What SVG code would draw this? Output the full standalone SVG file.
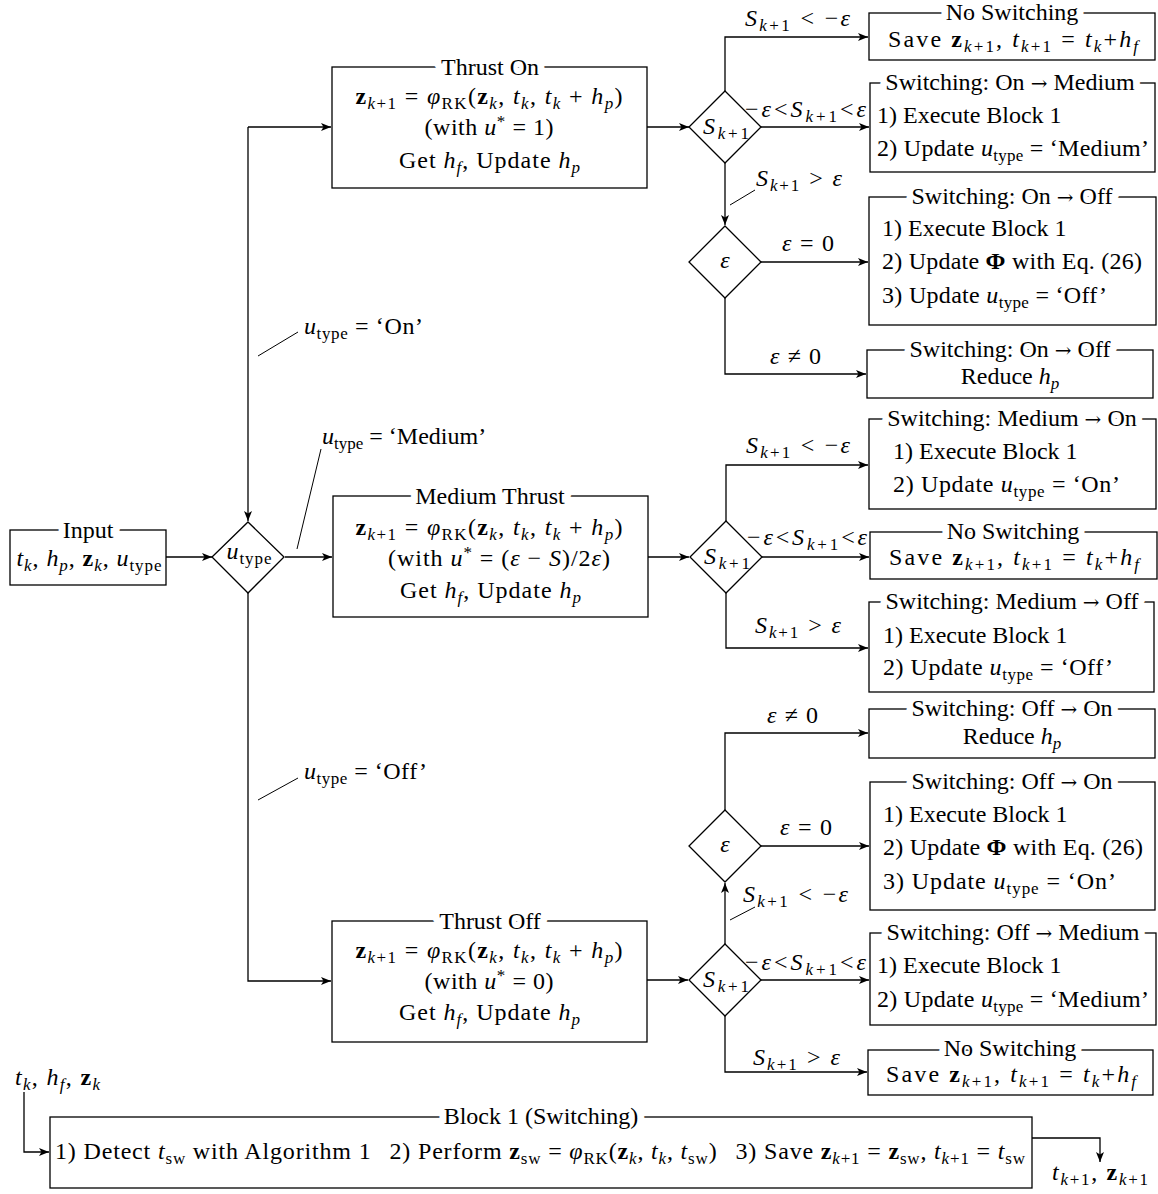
<svg xmlns="http://www.w3.org/2000/svg" width="1158" height="1194" viewBox="0 0 1158 1194">
<defs>
<style>
.t{font-family:"Liberation Serif","Times New Roman",serif;font-size:24px;fill:#000}
.i{font-style:italic}
.b{font-weight:bold}
.s{font-size:17px}
.m{text-anchor:middle}
.a{font-family:"DejaVu Serif",serif;font-size:20px}
.h{stroke:#fff;stroke-width:14px;paint-order:stroke;stroke-linejoin:round}
.box{fill:#fff;stroke:#000;stroke-width:1.3}
.dia{fill:#fff;stroke:#000;stroke-width:1.3}
.ln{fill:none;stroke:#000;stroke-width:1.3}
.pin{fill:none;stroke:#000;stroke-width:1}
</style>
<marker id="ah" viewBox="0 0 10 8" refX="10" refY="4" markerWidth="10" markerHeight="8" markerUnits="userSpaceOnUse" orient="auto"><path d="M0,0 L10,4 L0,8 L2.5,4 Z" fill="#000"/></marker>
</defs>
<rect width="1158" height="1194" fill="#fff"/>

<g id="connectors">
<path class="ln" marker-end="url(#ah)" d="M166,557 L212,557"/>
<path class="ln" marker-end="url(#ah)" d="M248,127 L248,521"/>
<path class="ln" marker-end="url(#ah)" d="M248,127 L331,127"/>
<path class="ln" marker-end="url(#ah)" d="M285,557 L332,557"/>
<path class="ln" marker-end="url(#ah)" d="M248,593 L248,981 L331,981"/>
<path class="ln" marker-end="url(#ah)" d="M368,112 L368,160 L396,160"/>
<path class="ln" marker-end="url(#ah)" d="M369,542 L369,590 L396,590"/>
<path class="ln" marker-end="url(#ah)" d="M368,966 L368,1012 L396,1012"/>
<path class="ln" marker-end="url(#ah)" d="M647,127 L689,127"/>
<path class="ln" marker-end="url(#ah)" d="M725,91 L725,37 L868,37"/>
<path class="ln" marker-end="url(#ah)" d="M761,127 L869,127"/>
<path class="ln" marker-end="url(#ah)" d="M725,163 L725,225"/>
<path class="ln" marker-end="url(#ah)" d="M761,262 L868,262"/>
<path class="ln" marker-end="url(#ah)" d="M725,298 L725,374 L866,374"/>
<path class="ln" marker-end="url(#ah)" d="M648,557 L689,557"/>
<path class="ln" marker-end="url(#ah)" d="M726,521 L726,465 L868,465"/>
<path class="ln" marker-end="url(#ah)" d="M762,557 L869,557"/>
<path class="ln" marker-end="url(#ah)" d="M726,593 L726,648 L868,648"/>
<path class="ln" marker-end="url(#ah)" d="M647,980 L688,980"/>
<path class="ln" marker-end="url(#ah)" d="M761,980 L869,980"/>
<path class="ln" marker-end="url(#ah)" d="M725,1016 L725,1072 L867,1072"/>
<path class="ln" marker-end="url(#ah)" d="M725,944 L725,883"/>
<path class="ln" marker-end="url(#ah)" d="M761,846 L869,846"/>
<path class="ln" marker-end="url(#ah)" d="M725,810 L725,733 L868,733"/>
<path class="ln" marker-end="url(#ah)" d="M24,1092 L24,1152 L49,1152"/>
<path class="ln" marker-end="url(#ah)" d="M1032,1138 L1100,1138 L1100,1162"/>
<path class="pin" d="M258,356 L298,332"/>
<path class="pin" d="M297,549 L321,449"/>
<path class="pin" d="M258,800 L298,778"/>
<path class="pin" d="M730,205 L755,190"/>
<path class="pin" d="M730,920 L755,907"/>
<text class="t" x="304" y="334" textLength="119" lengthAdjust="spacing"><tspan class="i">u</tspan><tspan class="s" dy="5">type</tspan><tspan dy="-5"> = ‘On’</tspan></text>
<text class="t" x="322" y="444"><tspan class="i">u</tspan><tspan class="s" dy="5">type</tspan><tspan dy="-5"> = ‘Medium’</tspan></text>
<text class="t" x="304" y="779" textLength="123" lengthAdjust="spacing"><tspan class="i">u</tspan><tspan class="s" dy="5">type</tspan><tspan dy="-5"> = ‘Off’</tspan></text>
<text class="t" x="745" y="26" textLength="105" lengthAdjust="spacing"><tspan class="i">S</tspan><tspan class="s" dy="5"><tspan class="i">k</tspan>+1</tspan><tspan dy="-5"> &lt; −</tspan><tspan class="i">ε</tspan></text>
<text class="t" x="745" y="117" textLength="121" lengthAdjust="spacing">−<tspan class="i">ε</tspan>&lt;<tspan class="i">S</tspan><tspan class="s" dy="5"><tspan class="i">k</tspan>+1</tspan><tspan dy="-5">&lt;</tspan><tspan class="i">ε</tspan></text>
<text class="t" x="756" y="186" textLength="86" lengthAdjust="spacing"><tspan class="i">S</tspan><tspan class="s" dy="5"><tspan class="i">k</tspan>+1</tspan><tspan dy="-5"> &gt; </tspan><tspan class="i">ε</tspan></text>
<text class="t" x="782" y="251" textLength="52" lengthAdjust="spacing"><tspan class="i">ε</tspan> = 0</text>
<text class="t" x="770" y="364" textLength="51" lengthAdjust="spacing"><tspan class="i">ε</tspan> ≠ 0</text>
<text class="t" x="746" y="453" textLength="104" lengthAdjust="spacing"><tspan class="i">S</tspan><tspan class="s" dy="5"><tspan class="i">k</tspan>+1</tspan><tspan dy="-5"> &lt; −</tspan><tspan class="i">ε</tspan></text>
<text class="t" x="747" y="545" textLength="120" lengthAdjust="spacing">−<tspan class="i">ε</tspan>&lt;<tspan class="i">S</tspan><tspan class="s" dy="5"><tspan class="i">k</tspan>+1</tspan><tspan dy="-5">&lt;</tspan><tspan class="i">ε</tspan></text>
<text class="t" x="755" y="633" textLength="86" lengthAdjust="spacing"><tspan class="i">S</tspan><tspan class="s" dy="5"><tspan class="i">k</tspan>+1</tspan><tspan dy="-5"> &gt; </tspan><tspan class="i">ε</tspan></text>
<text class="t" x="767" y="723" textLength="51" lengthAdjust="spacing"><tspan class="i">ε</tspan> ≠ 0</text>
<text class="t" x="780" y="835" textLength="52" lengthAdjust="spacing"><tspan class="i">ε</tspan> = 0</text>
<text class="t" x="743" y="902" textLength="105" lengthAdjust="spacing"><tspan class="i">S</tspan><tspan class="s" dy="5"><tspan class="i">k</tspan>+1</tspan><tspan dy="-5"> &lt; −</tspan><tspan class="i">ε</tspan></text>
<text class="t" x="745" y="970" textLength="121" lengthAdjust="spacing">−<tspan class="i">ε</tspan>&lt;<tspan class="i">S</tspan><tspan class="s" dy="5"><tspan class="i">k</tspan>+1</tspan><tspan dy="-5">&lt;</tspan><tspan class="i">ε</tspan></text>
<text class="t" x="753" y="1065" textLength="87" lengthAdjust="spacing"><tspan class="i">S</tspan><tspan class="s" dy="5"><tspan class="i">k</tspan>+1</tspan><tspan dy="-5"> &gt; </tspan><tspan class="i">ε</tspan></text>
<text class="t" x="15" y="1085" textLength="85" lengthAdjust="spacing"><tspan class="i">t</tspan><tspan class="s i" dy="5">k</tspan><tspan dy="-5">, </tspan><tspan class="i">h</tspan><tspan class="s i" dy="5">f</tspan><tspan dy="-5">, </tspan><tspan class="b">z</tspan><tspan class="s i" dy="5">k</tspan></text>
<text class="t" x="1052" y="1180" textLength="96" lengthAdjust="spacing"><tspan class="i">t</tspan><tspan class="s" dy="5"><tspan class="i">k</tspan>+1</tspan><tspan dy="-5">, </tspan><tspan class="b">z</tspan><tspan class="s" dy="5"><tspan class="i">k</tspan>+1</tspan></text>
</g>

<g id="input">
<rect class="box" x="10" y="530" width="156" height="55"/>
<text class="t m h" x="88" y="538">Input</text>
<text class="t m" x="89" y="566" textLength="145" lengthAdjust="spacing"><tspan class="i">t</tspan><tspan class="s i" dy="5">k</tspan><tspan dy="-5">, </tspan><tspan class="i">h</tspan><tspan class="s i" dy="5">p</tspan><tspan dy="-5">, </tspan><tspan class="b">z</tspan><tspan class="s i" dy="5">k</tspan><tspan dy="-5">, </tspan><tspan class="i">u</tspan><tspan class="s" dy="5">type</tspan></text>
</g>

<g id="utype-decision">
<path class="dia" d="M248,522 L284,557 L248,593 L212,557 Z"/>
<text class="t m" x="249" y="559" textLength="45" lengthAdjust="spacing"><tspan class="i">u</tspan><tspan class="s" dy="5">type</tspan></text>
</g>

<g id="thrust-on">
<rect class="box" x="332" y="67" width="315" height="121"/>
<text class="t m h" x="490" y="75">Thrust On</text>
<text class="t m" x="489" y="104" textLength="267" lengthAdjust="spacing"><tspan class="b">z</tspan><tspan class="s" dy="5"><tspan class="i">k</tspan>+1</tspan><tspan dy="-5"> = </tspan><tspan class="i">φ</tspan><tspan class="s" dy="5">RK</tspan><tspan dy="-5">(</tspan><tspan class="b">z</tspan><tspan class="s i" dy="5">k</tspan><tspan dy="-5">, </tspan><tspan class="i">t</tspan><tspan class="s i" dy="5">k</tspan><tspan dy="-5">, </tspan><tspan class="i">t</tspan><tspan class="s i" dy="5">k</tspan><tspan dy="-5"> + </tspan><tspan class="i">h</tspan><tspan class="s i" dy="5">p</tspan><tspan dy="-5">)</tspan></text>
<text class="t m" x="489" y="135" textLength="129" lengthAdjust="spacing">(with <tspan class="i">u</tspan><tspan class="s" dy="-8">*</tspan><tspan dy="8"> = 1)</tspan></text>
<text class="t" x="399" y="168" textLength="181" lengthAdjust="spacing">Get <tspan class="i">h</tspan><tspan class="s i" dy="5">f</tspan><tspan dy="-5">, Update </tspan><tspan class="i">h</tspan><tspan class="s i" dy="5">p</tspan></text>
</g>

<g id="medium-thrust">
<rect class="box" x="333" y="496" width="315" height="121"/>
<text class="t m h" x="490" y="504">Medium Thrust</text>
<text class="t m" x="489" y="535" textLength="267" lengthAdjust="spacing"><tspan class="b">z</tspan><tspan class="s" dy="5"><tspan class="i">k</tspan>+1</tspan><tspan dy="-5"> = </tspan><tspan class="i">φ</tspan><tspan class="s" dy="5">RK</tspan><tspan dy="-5">(</tspan><tspan class="b">z</tspan><tspan class="s i" dy="5">k</tspan><tspan dy="-5">, </tspan><tspan class="i">t</tspan><tspan class="s i" dy="5">k</tspan><tspan dy="-5">, </tspan><tspan class="i">t</tspan><tspan class="s i" dy="5">k</tspan><tspan dy="-5"> + </tspan><tspan class="i">h</tspan><tspan class="s i" dy="5">p</tspan><tspan dy="-5">)</tspan></text>
<text class="t m" x="499" y="566" textLength="222" lengthAdjust="spacing">(with <tspan class="i">u</tspan><tspan class="s" dy="-8">*</tspan><tspan dy="8"> = (</tspan><tspan class="i">ε</tspan> − <tspan class="i">S</tspan>)/2<tspan class="i">ε</tspan>)</text>
<text class="t" x="400" y="598" textLength="181" lengthAdjust="spacing">Get <tspan class="i">h</tspan><tspan class="s i" dy="5">f</tspan><tspan dy="-5">, Update </tspan><tspan class="i">h</tspan><tspan class="s i" dy="5">p</tspan></text>
</g>

<g id="thrust-off">
<rect class="box" x="332" y="921" width="315" height="121"/>
<text class="t m h" x="490" y="929">Thrust Off</text>
<text class="t m" x="489" y="958" textLength="267" lengthAdjust="spacing"><tspan class="b">z</tspan><tspan class="s" dy="5"><tspan class="i">k</tspan>+1</tspan><tspan dy="-5"> = </tspan><tspan class="i">φ</tspan><tspan class="s" dy="5">RK</tspan><tspan dy="-5">(</tspan><tspan class="b">z</tspan><tspan class="s i" dy="5">k</tspan><tspan dy="-5">, </tspan><tspan class="i">t</tspan><tspan class="s i" dy="5">k</tspan><tspan dy="-5">, </tspan><tspan class="i">t</tspan><tspan class="s i" dy="5">k</tspan><tspan dy="-5"> + </tspan><tspan class="i">h</tspan><tspan class="s i" dy="5">p</tspan><tspan dy="-5">)</tspan></text>
<text class="t m" x="489" y="989" textLength="129" lengthAdjust="spacing">(with <tspan class="i">u</tspan><tspan class="s" dy="-8">*</tspan><tspan dy="8"> = 0)</tspan></text>
<text class="t" x="399" y="1020" textLength="181" lengthAdjust="spacing">Get <tspan class="i">h</tspan><tspan class="s i" dy="5">f</tspan><tspan dy="-5">, Update </tspan><tspan class="i">h</tspan><tspan class="s i" dy="5">p</tspan></text>
</g>

<g id="s-decision-on">
<path class="dia" d="M725,91 L761,127 L725,163 L689,127 Z"/>
<text class="t m" x="726" y="134" textLength="46" lengthAdjust="spacing"><tspan class="i">S</tspan><tspan class="s" dy="5"><tspan class="i">k</tspan>+1</tspan></text>
</g>
<g id="eps-decision-on">
<path class="dia" d="M725,226 L761,262 L725,298 L689,262 Z"/>
<text class="t m i" x="725" y="268">ε</text>
</g>
<g id="s-decision-medium">
<path class="dia" d="M726,521 L762,557 L726,593 L690,557 Z"/>
<text class="t m" x="727" y="564" textLength="46" lengthAdjust="spacing"><tspan class="i">S</tspan><tspan class="s" dy="5"><tspan class="i">k</tspan>+1</tspan></text>
</g>
<g id="s-decision-off">
<path class="dia" d="M725,944 L761,980 L725,1016 L689,980 Z"/>
<text class="t m" x="726" y="987" textLength="46" lengthAdjust="spacing"><tspan class="i">S</tspan><tspan class="s" dy="5"><tspan class="i">k</tspan>+1</tspan></text>
</g>
<g id="eps-decision-off">
<path class="dia" d="M725,810 L761,846 L725,882 L689,846 Z"/>
<text class="t m i" x="725" y="852">ε</text>
</g>

<g id="no-switching-on">
<rect class="box" x="869" y="13" width="286" height="47"/>
<text class="t m h" x="1012" y="20">No Switching</text>
<text class="t m" x="1013" y="47" textLength="250" lengthAdjust="spacing">Save <tspan class="b">z</tspan><tspan class="s" dy="5"><tspan class="i">k</tspan>+1</tspan><tspan dy="-5">, </tspan><tspan class="i">t</tspan><tspan class="s" dy="5"><tspan class="i">k</tspan>+1</tspan><tspan dy="-5"> = </tspan><tspan class="i">t</tspan><tspan class="s i" dy="5">k</tspan><tspan dy="-5">+</tspan><tspan class="i">h</tspan><tspan class="s i" dy="5">f</tspan></text>
</g>

<g id="switch-on-medium">
<rect class="box" x="870" y="83" width="285" height="89"/>
<text class="t m h" x="1010" y="90">Switching: On <tspan class="a">→</tspan> Medium</text>
<text class="t" x="877" y="123">1) Execute Block 1</text>
<text class="t" x="877" y="156" textLength="272" lengthAdjust="spacing">2) Update <tspan class="i">u</tspan><tspan class="s" dy="5">type</tspan><tspan dy="-5"> = ‘Medium’</tspan></text>
</g>

<g id="switch-on-off-1">
<rect class="box" x="869" y="197" width="287" height="128"/>
<text class="t m h" x="1012" y="204">Switching: On <tspan class="a">→</tspan> Off</text>
<text class="t" x="882" y="236">1) Execute Block 1</text>
<text class="t" x="882" y="269" textLength="260" lengthAdjust="spacing">2) Update <tspan class="b">Φ</tspan> with Eq. (26)</text>
<text class="t" x="882" y="303" textLength="225" lengthAdjust="spacing">3) Update <tspan class="i">u</tspan><tspan class="s" dy="5">type</tspan><tspan dy="-5"> = ‘Off’</tspan></text>
</g>

<g id="switch-on-off-2">
<rect class="box" x="867" y="350" width="286" height="48"/>
<text class="t m h" x="1010" y="357">Switching: On <tspan class="a">→</tspan> Off</text>
<text class="t m" x="1010" y="384">Reduce <tspan class="i">h</tspan><tspan class="s i" dy="5">p</tspan></text>
</g>

<g id="switch-medium-on">
<rect class="box" x="869" y="419" width="287" height="90"/>
<text class="t m h" x="1012" y="426">Switching: Medium <tspan class="a">→</tspan> On</text>
<text class="t" x="893" y="459">1) Execute Block 1</text>
<text class="t" x="893" y="492" textLength="227" lengthAdjust="spacing">2) Update <tspan class="i">u</tspan><tspan class="s" dy="5">type</tspan><tspan dy="-5"> = ‘On’</tspan></text>
</g>

<g id="no-switching-medium">
<rect class="box" x="870" y="532" width="287" height="47"/>
<text class="t m h" x="1013" y="539">No Switching</text>
<text class="t m" x="1014" y="565" textLength="250" lengthAdjust="spacing">Save <tspan class="b">z</tspan><tspan class="s" dy="5"><tspan class="i">k</tspan>+1</tspan><tspan dy="-5">, </tspan><tspan class="i">t</tspan><tspan class="s" dy="5"><tspan class="i">k</tspan>+1</tspan><tspan dy="-5"> = </tspan><tspan class="i">t</tspan><tspan class="s i" dy="5">k</tspan><tspan dy="-5">+</tspan><tspan class="i">h</tspan><tspan class="s i" dy="5">f</tspan></text>
</g>

<g id="switch-medium-off">
<rect class="box" x="869" y="602" width="285" height="90"/>
<text class="t m h" x="1012" y="609">Switching: Medium <tspan class="a">→</tspan> Off</text>
<text class="t" x="883" y="643">1) Execute Block 1</text>
<text class="t" x="883" y="675" textLength="230" lengthAdjust="spacing">2) Update <tspan class="i">u</tspan><tspan class="s" dy="5">type</tspan><tspan dy="-5"> = ‘Off’</tspan></text>
</g>

<g id="switch-off-on-1">
<rect class="box" x="869" y="709" width="286" height="49"/>
<text class="t m h" x="1012" y="716">Switching: Off <tspan class="a">→</tspan> On</text>
<text class="t m" x="1012" y="744">Reduce <tspan class="i">h</tspan><tspan class="s i" dy="5">p</tspan></text>
</g>

<g id="switch-off-on-2">
<rect class="box" x="870" y="782" width="285" height="128"/>
<text class="t m h" x="1012" y="789">Switching: Off <tspan class="a">→</tspan> On</text>
<text class="t" x="883" y="822">1) Execute Block 1</text>
<text class="t" x="883" y="855" textLength="260" lengthAdjust="spacing">2) Update <tspan class="b">Φ</tspan> with Eq. (26)</text>
<text class="t" x="883" y="889" textLength="233" lengthAdjust="spacing">3) Update <tspan class="i">u</tspan><tspan class="s" dy="5">type</tspan><tspan dy="-5"> = ‘On’</tspan></text>
</g>

<g id="switch-off-medium">
<rect class="box" x="870" y="933" width="286" height="92"/>
<text class="t m h" x="1013" y="940">Switching: Off <tspan class="a">→</tspan> Medium</text>
<text class="t" x="877" y="973">1) Execute Block 1</text>
<text class="t" x="877" y="1007" textLength="272" lengthAdjust="spacing">2) Update <tspan class="i">u</tspan><tspan class="s" dy="5">type</tspan><tspan dy="-5"> = ‘Medium’</tspan></text>
</g>

<g id="no-switching-off">
<rect class="box" x="868" y="1050" width="285" height="45"/>
<text class="t m h" x="1010" y="1056">No Switching</text>
<text class="t m" x="1011" y="1082" textLength="250" lengthAdjust="spacing">Save <tspan class="b">z</tspan><tspan class="s" dy="5"><tspan class="i">k</tspan>+1</tspan><tspan dy="-5">, </tspan><tspan class="i">t</tspan><tspan class="s" dy="5"><tspan class="i">k</tspan>+1</tspan><tspan dy="-5"> = </tspan><tspan class="i">t</tspan><tspan class="s i" dy="5">k</tspan><tspan dy="-5">+</tspan><tspan class="i">h</tspan><tspan class="s i" dy="5">f</tspan></text>
</g>

<g id="block1">
<rect class="box" x="50" y="1117" width="982" height="71"/>
<text class="t m h" x="541" y="1124">Block 1 (Switching)</text>
<text class="t m" x="540" y="1159" textLength="970" lengthAdjust="spacing">1) Detect <tspan class="i">t</tspan><tspan class="s" dy="5">sw</tspan><tspan dy="-5"> with Algorithm 1</tspan><tspan dx="18">2) Perform </tspan><tspan class="b">z</tspan><tspan class="s" dy="5">sw</tspan><tspan dy="-5"> = </tspan><tspan class="i">φ</tspan><tspan class="s" dy="5">RK</tspan><tspan dy="-5">(</tspan><tspan class="b">z</tspan><tspan class="s i" dy="5">k</tspan><tspan dy="-5">, </tspan><tspan class="i">t</tspan><tspan class="s i" dy="5">k</tspan><tspan dy="-5">, </tspan><tspan class="i">t</tspan><tspan class="s" dy="5">sw</tspan><tspan dy="-5">)</tspan><tspan dx="18">3) Save </tspan><tspan class="b">z</tspan><tspan class="s" dy="5"><tspan class="i">k</tspan>+1</tspan><tspan dy="-5"> = </tspan><tspan class="b">z</tspan><tspan class="s" dy="5">sw</tspan><tspan dy="-5">, </tspan><tspan class="i">t</tspan><tspan class="s" dy="5"><tspan class="i">k</tspan>+1</tspan><tspan dy="-5"> = </tspan><tspan class="i">t</tspan><tspan class="s" dy="5">sw</tspan></text>
</g>
</svg>
